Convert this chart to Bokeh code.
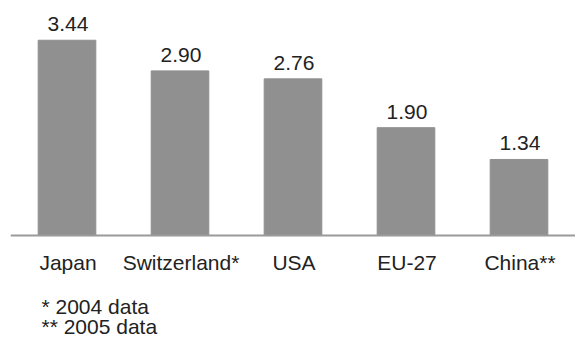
from bokeh.plotting import figure
from bokeh.models import FactorRange, Range1d, Span, Label
from bokeh.core.properties import value
from bokeh.embed import file_html
from bokeh.resources import INLINE

# Gross expenditure on R&D as a share of GDP
categories = ["Japan", "Switzerland*", "USA", "EU-27", "China**"]
values = [3.44, 2.90, 2.76, 1.90, 1.34]
footnotes = ["* 2004 data", "** 2005 data"]

FONT = "Liberation Sans"
TEXT_COLOR = "#222222"
BAR_COLOR = "#8f908f"

# The frame covers the whole canvas; the range dips below zero to leave
# room for the category names and the footnotes under the baseline.
p = figure(
    x_range=FactorRange(*categories, range_padding=0),
    y_range=Range1d(-1.866, 4.14),
    width=575, height=341,
    output_backend="svg", toolbar_location=None,
    min_border_left=10, min_border_right=0,
    min_border_top=0, min_border_bottom=0,
)

p.vbar(x=categories, top=values, width=0.51, color=BAR_COLOR)

# value labels above the bars
p.text(
    x=categories, y=values, text=[f"{v:.2f}" for v in values],
    x_offset=1, y_offset=-16,
    text_align="center", text_baseline="alphabetic",
    text_font=value(FONT), text_font_size="21px", text_color=TEXT_COLOR,
)

# category names under the baseline
p.text(
    x=categories, y=[0] * len(categories), text=categories,
    x_offset=1, y_offset=27,
    text_align="center", text_baseline="alphabetic",
    text_font=value(FONT), text_font_size="21px", text_color=TEXT_COLOR,
)

# baseline
p.add_layout(Span(location=0, dimension="width",
                  line_color="#9a9a9a", line_width=2))

# footnotes
for i, note in enumerate(footnotes):
    p.add_layout(Label(
        x=31, x_units="screen", y=0, y_units="data",
        y_offset=-71 - 20 * i, text=note,
        text_align="left", text_baseline="alphabetic",
        text_font=FONT, text_font_size="21px", text_color=TEXT_COLOR,
    ))

p.outline_line_color = None
p.xgrid.visible = False
p.ygrid.visible = False
p.xaxis.visible = False
p.yaxis.visible = False

p.background_fill_color = "white"
p.border_fill_color = "white"

open("out.html", "w").write(file_html(p, INLINE))
